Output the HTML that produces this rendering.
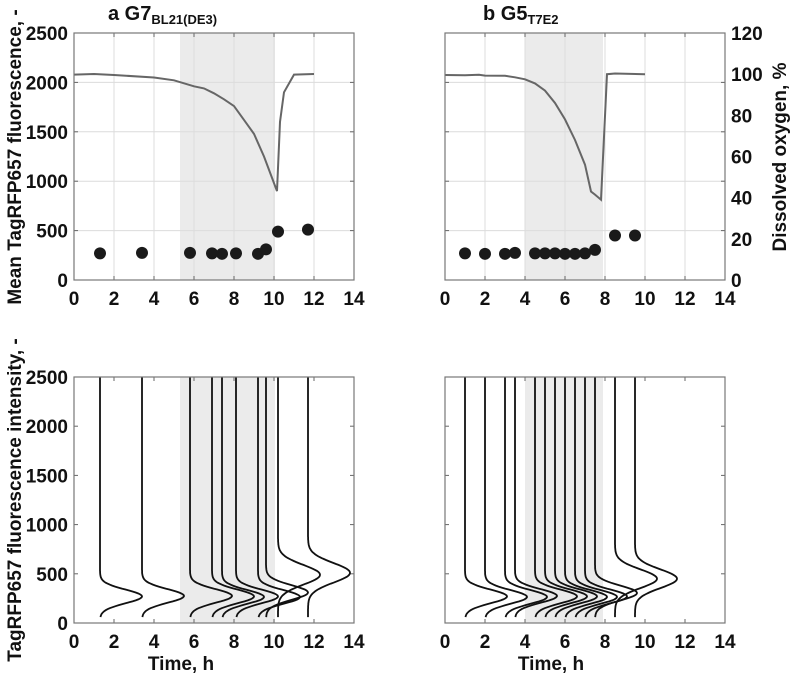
<!DOCTYPE html>
<html><head><meta charset="utf-8"><style>
body{margin:0;background:#fff;}
svg{display:block;font-family:"Liberation Sans Narrow","Liberation Sans",sans-serif;font-weight:bold;}
</style></head><body>
<svg id="fig" width="795" height="686" viewBox="0 0 795 686" xmlns="http://www.w3.org/2000/svg"></svg>
<script>
// Panel a data
const aTimes = [1.3, 3.4, 5.8, 6.9, 7.4, 8.1, 9.2, 9.6, 10.2, 11.7];
const aMeans = [270, 275, 275, 270, 265, 270, 265, 310, 490, 510];
const aSigmas = [70, 70, 70, 70, 70, 70, 70, 75, 100, 100];
const aDOt = [0, 1, 2, 4, 5, 6, 6.5, 7, 7.5, 8, 8.5, 9, 9.5, 10.15, 10.3, 10.5, 11, 12];
const aDOv = [99.8, 100.1, 99.6, 98.4, 97, 94.1, 93.1, 90.7, 87.8, 84.5, 77.8, 71, 60, 43.2, 76.8, 91.2, 99.8, 100.1];
const aShade = [5.3, 10.05];
// Panel b data
const bTimes = [1, 2, 3, 3.5, 4.5, 5, 5.5, 6, 6.5, 7, 7.5, 8.5, 9.5];
const bMeans = [270, 265, 265, 275, 270, 270, 270, 265, 265, 270, 305, 450, 450];
const bSigmas = [70, 70, 70, 70, 70, 70, 70, 70, 70, 70, 75, 95, 95];
const bDOt = [0, 1, 1.7, 2, 3, 3.5, 4, 4.5, 5, 5.5, 6, 6.5, 7, 7.3, 7.5, 7.8, 8.1, 8.5, 10];
const bDOv = [99.6, 99.5, 99.7, 99.3, 99.2, 98.5, 97.5, 95.5, 92, 86, 78, 68, 56, 43, 41.5, 39, 100, 100.3, 100];
const bShade = [4.0, 7.9];
// Axis ticks
const xTicks = [0, 2, 4, 6, 8, 10, 12, 14];
const yTicks = [0, 500, 1000, 1500, 2000, 2500];
const doTicks = [0, 20, 40, 60, 80, 100, 120];
const peakWidth = 2.1;

const NS = "http://www.w3.org/2000/svg";
const svg = document.getElementById('fig');
function el(tag, attrs, parent) {
  const e = document.createElementNS(NS, tag);
  for (const k in attrs) e.setAttribute(k, attrs[k]);
  (parent || svg).appendChild(e);
  return e;
}
function txt(s, x, y, size, anchor, parent, rot) {
  const t = el('text', {x: x, y: y, 'font-size': size, 'text-anchor': anchor || 'middle', fill: '#111'}, parent);
  if (rot) t.setAttribute('transform', 'rotate(-90 ' + x + ' ' + y + ')');
  t.textContent = s;
  return t;
}

function panel(name, x0, x1, yTop, yBot, opts) {
  const g = el('g', {});
  
  
  const sx = v => x0 + (v / 14) * (x1 - x0);
  const sy = v => yBot - (v / 2500) * (yBot - yTop);
  const sh = el('rect', {x: sx(opts.shade[0]), y: yTop, width: sx(opts.shade[1]) - sx(opts.shade[0]), height: yBot - yTop, fill: '#ebebeb'}, g);
  
  
  if (opts.grid) {
    xTicks.forEach(v => el('line', {x1: sx(v), x2: sx(v), y1: yTop, y2: yBot, stroke: '#dcdcdc', 'stroke-width': 1}, g));
    yTicks.forEach(v => el('line', {x1: x0, x2: x1, y1: sy(v), y2: sy(v), stroke: '#dcdcdc', 'stroke-width': 1}, g));
  }
  xTicks.forEach(v => {
    el('line', {x1: sx(v), x2: sx(v), y1: yBot, y2: yBot - 4, stroke: '#666'}, g);
    el('line', {x1: sx(v), x2: sx(v), y1: yTop, y2: yTop + 4, stroke: '#666'}, g);
    const t = txt(String(v), sx(v), yBot + 25, 19, 'middle', g);
    
    
  });
  yTicks.forEach(v => {
    el('line', {x1: x0, x2: x0 + 4, y1: sy(v), y2: sy(v), stroke: '#666'}, g);
    el('line', {x1: x1, x2: x1 - 4, y1: sy(v), y2: sy(v), stroke: '#666'}, g);
    if (opts.yLabels) {
      const t = txt(String(v), x0 - 6, sy(v) + 7, 19, 'end', g);
      
      
    }
  });
  if (opts.doLabels) {
    const sd = v => yBot - (v / 120) * (yBot - yTop);
    doTicks.forEach(v => {
      const t = txt(String(v), x1 + 6, sd(v) + 7, 19, 'start', g);
      
      
    });
  }
  if (opts.doT) {
    const sd = v => yBot - (v / 120) * (yBot - yTop);
    const pts = opts.doT.map((t, i) => sx(t).toFixed(1) + ',' + sd(opts.doV[i]).toFixed(1)).join(' ');
    const pl = el('polyline', {points: pts, fill: 'none', stroke: '#666', 'stroke-width': 2}, g);
    
    
  }
  if (opts.dots) {
    opts.times.forEach((t, i) => {
      const c = el('circle', {cx: sx(t), cy: sy(opts.means[i]), r: 6, fill: '#1a1a1a'}, g);
      
      
    });
  }
  if (opts.dists) {
    opts.times.forEach((t, i) => {
      const mu = opts.means[i], s = opts.sigmas[i];
      const pts = [];
      for (let y = 2500; y >= 60; y -= 10) {
        const xv = t + peakWidth * Math.exp(-Math.pow(y - mu, 2) / (2 * s * s));
        pts.push(sx(xv).toFixed(1) + ',' + sy(y).toFixed(1));
      }
      const pl = el('polyline', {points: pts.join(' '), fill: 'none', stroke: '#111', 'stroke-width': 1.8}, g);
      
      
    });
  }
  const fr = el('rect', {x: x0, y: yTop, width: x1 - x0, height: yBot - yTop, fill: 'none', stroke: '#777', 'stroke-width': 1.2}, g);
  
  
}

panel('panel-a-top', 74, 354, 33, 280, {shade: aShade, grid: true, yLabels: true, doT: aDOt, doV: aDOv, dots: true, times: aTimes, means: aMeans});
panel('panel-b-top', 445, 725, 33, 280, {shade: bShade, grid: true, doLabels: true, doT: bDOt, doV: bDOv, dots: true, times: bTimes, means: bMeans});
panel('panel-a-bottom', 74, 354, 377, 623, {shade: aShade, yLabels: true, dists: true, times: aTimes, means: aMeans, sigmas: aSigmas});
panel('panel-b-bottom', 445, 725, 377, 623, {shade: bShade, dists: true, times: bTimes, means: bMeans, sigmas: bSigmas});

let t;
t = txt('Mean TagRFP657 fluorescence, -', 21, 157, 19, 'middle', svg, true);


t = txt('TagRFP657 fluorescence intensity, -', 21, 500, 19, 'middle', svg, true);


t = txt('Dissolved oxygen, %', 786, 157, 19, 'middle', svg, true);


t = txt('Time, h', 181, 670, 19, 'middle', svg);


t = txt('Time, h', 551, 670, 19, 'middle', svg);



const ta = el('text', {x: 108, y: 20, 'font-size': 20, fill: '#111'});


ta.innerHTML = 'a G7<tspan font-size="13" dy="4">BL21(DE3)</tspan>';
const tb = el('text', {x: 483, y: 20, 'font-size': 20, fill: '#111'});


tb.innerHTML = 'b G5<tspan font-size="13" dy="4">T7E2</tspan>';
</script>
</body></html>
